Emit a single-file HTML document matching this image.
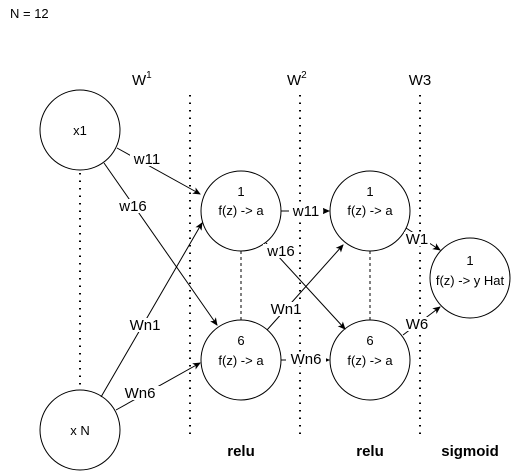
<!DOCTYPE html>
<html><head><meta charset="utf-8"><style>
body{margin:0;background:#fff}
svg{display:block;font-family:"Liberation Sans",Arial,sans-serif}
</style></head><body>
<svg width="511" height="471" viewBox="0 0 511 471" xmlns="http://www.w3.org/2000/svg">
<defs><marker id="a" markerWidth="8" markerHeight="8" refX="7" refY="4" orient="auto" markerUnits="userSpaceOnUse"><path d="M0,0.5 L8,4 L0,7.5 L2,4 z" fill="#000"/></marker></defs>
<text x="10" y="18" font-size="13">N = 12</text>
<g stroke="#000" stroke-width="2" stroke-dasharray="1.5 6" fill="none">
<line x1="190" y1="95" x2="190" y2="440"/>
<line x1="300" y1="95" x2="300" y2="440"/>
<line x1="420" y1="95" x2="420" y2="440"/>
<line x1="80" y1="173" x2="80" y2="388"/>
</g>
<g stroke="#000" stroke-width="1" stroke-dasharray="3 3">
<line x1="241" y1="251" x2="241" y2="320"/>
<line x1="370" y1="251" x2="370" y2="320"/>
</g>
<g stroke="#000" stroke-width="1" fill="#fff">
<circle cx="80" cy="130" r="40"/>
<circle cx="80" cy="430" r="40"/>
<circle cx="241" cy="211" r="40"/>
<circle cx="241" cy="360" r="40"/>
<circle cx="370" cy="211" r="40"/>
<circle cx="370" cy="360" r="40"/>
<circle cx="470" cy="278" r="40"/>
</g>
<g stroke="#000" stroke-width="1" fill="none" marker-end="url(#a)">
<line x1="117" y1="148" x2="200" y2="194"/>
<line x1="104" y1="163" x2="217" y2="325"/>
<line x1="101" y1="397" x2="202" y2="223"/>
<line x1="116" y1="410" x2="200" y2="363"/>
<line x1="281" y1="211" x2="329" y2="211"/>
<line x1="266" y1="243" x2="345" y2="329"/>
<line x1="267" y1="330" x2="343" y2="245"/>
<line x1="281" y1="360" x2="329" y2="360"/>
<line x1="406" y1="228" x2="440" y2="250"/>
<line x1="403" y1="335" x2="440" y2="307"/>
</g>
<g font-size="13" text-anchor="middle">
<text x="80" y="135">x1</text>
<text x="80" y="435">x N</text>
<text x="241" y="196">1</text><text x="241" y="215">f(z) -&gt; a</text>
<text x="241" y="345">6</text><text x="241" y="365">f(z) -&gt; a</text>
<text x="370" y="196">1</text><text x="370" y="215">f(z) -&gt; a</text>
<text x="370" y="345">6</text><text x="370" y="365">f(z) -&gt; a</text>
<text x="470" y="265">1</text><text x="470" y="285">f(z) -&gt; y Hat</text>
</g>
<g font-size="15" text-anchor="middle">
<rect x="130" y="152" width="34" height="14" fill="#fff"/><text x="147" y="164">w11</text>
<rect x="115" y="199" width="36" height="14" fill="#fff"/><text x="133" y="211">w16</text>
<rect x="125" y="318" width="40" height="14" fill="#fff"/><text x="145" y="330">Wn1</text>
<rect x="121" y="386" width="40" height="14" fill="#fff"/><text x="140" y="398">Wn6</text>
<rect x="289" y="204" width="34" height="14" fill="#fff"/><text x="306" y="216">w11</text>
<rect x="263" y="244" width="36" height="14" fill="#fff"/><text x="281" y="256">w16</text>
<rect x="266" y="302" width="40" height="14" fill="#fff"/><text x="286" y="314">Wn1</text>
<rect x="286" y="352" width="40" height="14" fill="#fff"/><text x="306" y="364">Wn6</text>
<rect x="404" y="232" width="26" height="14" fill="#fff"/><text x="417" y="244">W1</text>
<rect x="404" y="317" width="26" height="14" fill="#fff"/><text x="417" y="329">W6</text>
<text x="420" y="85">W3</text>
</g>
<g font-size="15">
<text x="132" y="85">W<tspan font-size="10" dy="-7">1</tspan></text>
<text x="287" y="85">W<tspan font-size="10" dy="-7">2</tspan></text>
</g>
<g font-size="15" font-weight="bold" text-anchor="middle">
<text x="241" y="456">relu</text>
<text x="370" y="456">relu</text>
<text x="470" y="456">sigmoid</text>
</g>
</svg>
</body></html>
